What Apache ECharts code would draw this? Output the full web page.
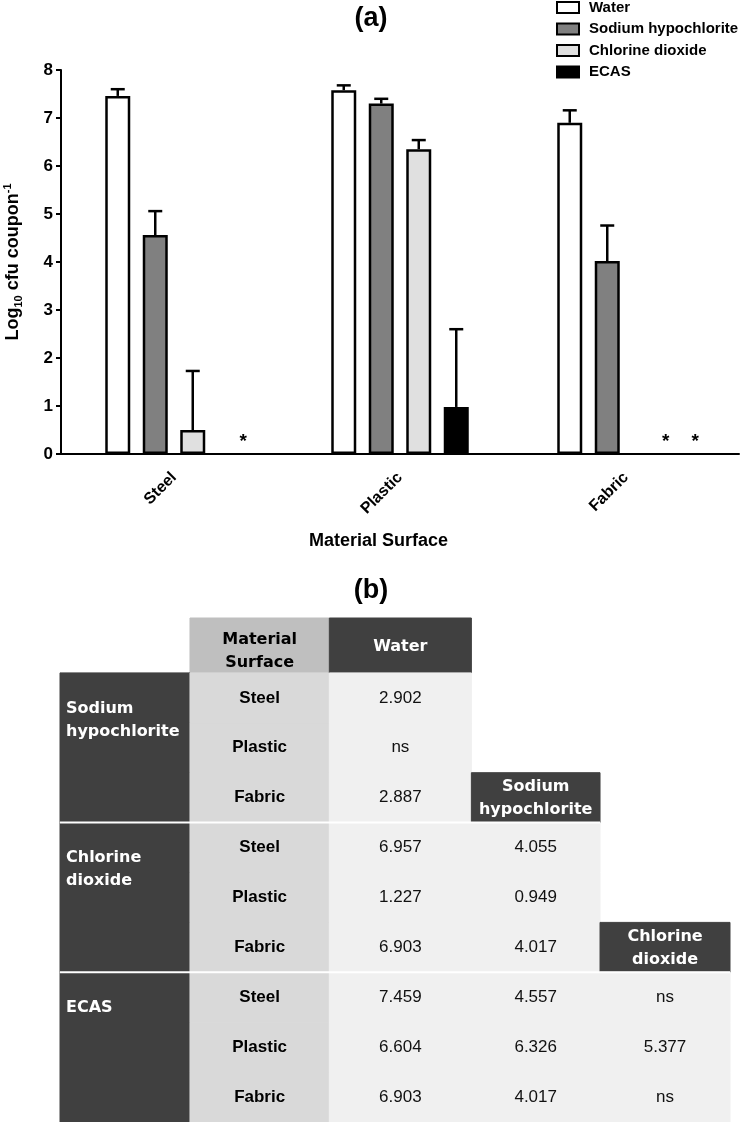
<!DOCTYPE html>
<html>
<head>
<meta charset="utf-8">
<script src="https://cdn.jsdelivr.net/npm/echarts@6/dist/echarts.min.js"></script>
<style>
  html, body { margin: 0; padding: 0; background: #fff; }
  #chart { width: 742px; height: 1122px; }
</style>
</head>
<body>
<div id="chart"></div>
<script>
// ---- (a) bar chart data ----
const SURFACES = ['Steel', 'Plastic', 'Fabric'];
const TREATMENTS = ['Water', 'Sodium hypochlorite', 'Chlorine dioxide', 'ECAS'];
const WATER = [7.46, 7.58, 6.90];
const SODIUM = [4.56, 7.30, 4.02];
const CHLORINE = [0.50, 6.35, 0];
const ECAS = [0, 0.98, 0];
const WATER_ERR = [0.14, 0.10, 0.26];
const SODIUM_ERR = [0.50, 0.10, 0.74];
const CHLORINE_ERR = [1.23, 0.19, 0];
const ECAS_ERR = [0, 1.62, 0];
const Y_TICKS = [0, 1, 2, 3, 4, 5, 6, 7, 8];

// ---- (b) table data ----
const GROUP_LABELS = ['Sodium hypochlorite', 'Chlorine dioxide', 'ECAS'];
const COMPARE_HEADS = ['Water', 'Sodium hypochlorite', 'Chlorine dioxide'];
const VS_WATER = ['2.902', 'ns', '2.887', '6.957', '1.227', '6.903', '7.459', '6.604', '6.903'];
const VS_SODIUM = [null, null, null, '4.055', '0.949', '4.017', '4.557', '6.326', '4.017'];
const VS_CHLORINE = [null, null, null, null, null, null, 'ns', '5.377', 'ns'];

// ---- styles ----
const BAR_COLORS = ['#ffffff', '#808080', '#e0e0e0', '#000000'];
const STAR_DX = [0, 0, 21, 13];
const BAR_W = 25;
const PITCH = BAR_W * 1.5;
const DARK = '#404040';
const MAT_HEAD_BG = '#bfbfbf';
const MAT_BG = '#d9d9d9';
const VALUE_BG = '#f0f0f0';
const COL_EDGES = [0, 0.97, 2.01, 3.07, 4.03, 5];
const SANS = 'Liberation Sans, Arial, sans-serif';
const WIDE = 'DejaVu Sans, Verdana, sans-serif';

const means = [WATER, SODIUM, CHLORINE, ECAS];
const errs = [WATER_ERR, SODIUM_ERR, CHLORINE_ERR, ECAS_ERR];

const errData = [];
means.forEach((m, s) => {
  m.forEach((v, c) => {
    if (errs[s][c] > 0) errData.push([c, s, v, errs[s][c]]);
  });
});

// table cells
const cells = [];
cells.push({ c0: 1, c1: 2, r0: -1.1, r1: 0, text: 'Material\nSurface', bg: MAT_HEAD_BG, kind: 'head', fill: '#000', dy: 6 });
GROUP_LABELS.forEach((g, gi) => {
  cells.push({ c0: 0, c1: 1, r0: gi * 3, r1: gi * 3 + 3, text: g.replace(' ', '\n'), bg: DARK, kind: 'group', fill: '#fff' });
});
VS_WATER.forEach((v, i) => {
  cells.push({ c0: 1, c1: 2, r0: i, r1: i + 1, text: SURFACES[i % 3], bg: MAT_BG, kind: 'surface', fill: '#000' });
});
[VS_WATER, VS_SODIUM, VS_CHLORINE].forEach((col, k) => {
  const first = col.findIndex(v => v !== null);
  const hr = k === 0 ? -1.1 : first - 1;
  cells.push({ c0: k + 2, c1: k + 3, r0: hr, r1: first, text: COMPARE_HEADS[k].replace(' ', '\n'), bg: DARK, kind: 'head', fill: '#fff', dy: 1 });
  col.forEach((v, i) => {
    if (v !== null) cells.push({ c0: k + 2, c1: k + 3, r0: i, r1: i + 1, text: v, bg: VALUE_BG, kind: 'value', fill: '#111' });
  });
});
cells.push({ c0: 0, c1: 4, r0: 3, r1: 3, kind: 'rule' });
cells.push({ c0: 0, c1: 5, r0: 6, r1: 6, kind: 'rule' });

const chart = echarts.init(document.getElementById('chart'));

const option = {
  animation: false,
  backgroundColor: '#fff',
  title: [
    { text: '(a)', left: 'center', top: 0, textStyle: { fontSize: 27, fontWeight: 'bold', fontFamily: SANS, color: '#000' } },
    { text: '(b)', left: 'center', top: 572, textStyle: { fontSize: 27, fontWeight: 'bold', fontFamily: SANS, color: '#000' } }
  ],
  legend: {
    data: TREATMENTS,
    orient: 'vertical',
    left: 556,
    top: 0,
    padding: 0,
    itemWidth: 22,
    itemHeight: 11,
    itemGap: 6.5,
    icon: 'rect',
    itemStyle: { borderColor: '#000', borderWidth: 2 },
    textStyle: { fontSize: 15, fontWeight: 'bold', fontFamily: SANS, color: '#000', padding: [0, 0, 0, 5] }
  },
  grid: [
    { left: 61, right: 3, top: 70, bottom: 668, outerBoundsMode: 'none' },
    { left: 60, right: 12, top: 618, bottom: 0, outerBoundsMode: 'none' }
  ],
  xAxis: [
    {
      type: 'category',
      gridIndex: 0,
      data: SURFACES,
      name: 'Material Surface',
      nameLocation: 'middle',
      nameGap: 78,
      nameTextStyle: { fontSize: 18, fontWeight: 'bold', fontFamily: SANS, color: '#000', padding: [0, 43, 0, 0] },
      axisLine: { lineStyle: { color: '#000', width: 2 } },
      axisTick: { alignWithLabel: true, length: 6, lineStyle: { color: '#000', width: 2 } },
      axisLabel: { rotate: 45, margin: 21, fontSize: 16, fontWeight: 'bold', fontFamily: SANS, color: '#000' }
    },
    { type: 'value', gridIndex: 1, min: 0, max: 5, show: false }
  ],
  yAxis: [
    {
      type: 'value',
      gridIndex: 0,
      min: Y_TICKS[0],
      max: Y_TICKS[Y_TICKS.length - 1],
      interval: 1,
      name: '{b|Log}{s|10}{b| cfu coupon}{p|-1}',
      nameLocation: 'middle',
      nameGap: 37,
      nameTextStyle: {
        rich: {
          b: { fontSize: 18, fontWeight: 'bold', fontFamily: SANS, color: '#000', lineHeight: 22 },
          s: { fontSize: 11, fontWeight: 'bold', fontFamily: SANS, color: '#000', verticalAlign: 'bottom', lineHeight: 22 },
          p: { fontSize: 11, fontWeight: 'bold', fontFamily: SANS, color: '#000', verticalAlign: 'top', lineHeight: 22 }
        }
      },
      axisLine: { show: true, lineStyle: { color: '#000', width: 2 } },
      axisTick: { show: true, length: 5, lineStyle: { color: '#000', width: 2 } },
      axisLabel: { margin: 8, fontSize: 17, fontWeight: 'bold', fontFamily: SANS, color: '#000' },
      splitLine: { show: false }
    },
    { type: 'value', gridIndex: 1, min: -1.1, max: 9, inverse: true, show: false }
  ],
  series: [
    ...TREATMENTS.map((name, s) => ({
      name: name,
      type: 'bar',
      xAxisIndex: 0,
      yAxisIndex: 0,
      // zero-height bars carry the '*' marker only
      data: means[s].map(v => (v === 0
        ? { value: 0, itemStyle: { color: 'transparent', borderColor: 'transparent' } }
        : v)),
      barWidth: BAR_W,
      barGap: '50%',
      itemStyle: { color: BAR_COLORS[s], borderColor: '#000', borderWidth: 2.5 },
      label: {
        show: true,
        position: 'top',
        distance: 1,
        offset: [STAR_DX[s], 0],
        formatter: p => (p.value === 0 ? '*' : ''),
        fontSize: 19,
        fontWeight: 'bold',
        fontFamily: SANS,
        color: '#000'
      }
    })),
    {
      name: 'error',
      type: 'custom',
      xAxisIndex: 0,
      yAxisIndex: 0,
      data: errData,
      encode: { x: 0, y: 2 },
      z: 5,
      renderItem: function (params, api) {
        const dx = (api.value(1) - 1.5) * PITCH;
        const base = api.coord([api.value(0), api.value(2)]);
        const top = api.coord([api.value(0), api.value(2) + api.value(3)]);
        const x = base[0] + dx;
        const st = { stroke: '#000', lineWidth: 2.5 };
        return {
          type: 'group',
          children: [
            { type: 'line', shape: { x1: x, y1: base[1], x2: x, y2: top[1] }, style: st },
            { type: 'line', shape: { x1: x - 7, y1: top[1], x2: x + 7, y2: top[1] }, style: st }
          ]
        };
      }
    },
    {
      name: 'table',
      type: 'custom',
      xAxisIndex: 1,
      yAxisIndex: 1,
      clip: false,
      data: cells.map(c => [COL_EDGES[c.c0], c.r0, COL_EDGES[c.c1], c.r1]),
      encode: { x: [0, 2], y: [1, 3] },
      renderItem: function (params, api) {
        const cell = cells[params.dataIndex];
        const a = api.coord([api.value(0), api.value(1)]);
        const b = api.coord([api.value(2), api.value(3)]);
        if (cell.kind === 'rule') {
          return { type: 'line', z2: 10, shape: { x1: a[0], y1: a[1], x2: b[0], y2: a[1] }, style: { stroke: '#ffffff', lineWidth: 2 } };
        }
        const children = [
          { type: 'rect', shape: { x: a[0], y: a[1], width: b[0] - a[0], height: b[1] - a[1] }, style: { fill: cell.bg, stroke: cell.bg, lineWidth: 1 } }
        ];
        let ts;
        if (cell.kind === 'group') {
          ts = { x: a[0] + 6, y: a[1] + 24, align: 'left', verticalAlign: 'top', font: 'bold 16px ' + WIDE, lineHeight: 23 };
        } else if (cell.kind === 'head') {
          ts = { x: (a[0] + b[0]) / 2, y: (a[1] + b[1]) / 2 + cell.dy, align: 'center', verticalAlign: 'middle', font: 'bold 16px ' + WIDE, lineHeight: 23 };
        } else if (cell.kind === 'surface') {
          ts = { x: (a[0] + b[0]) / 2, y: (a[1] + b[1]) / 2, align: 'center', verticalAlign: 'middle', font: 'bold 17px ' + SANS };
        } else {
          ts = { x: (a[0] + b[0]) / 2, y: (a[1] + b[1]) / 2, align: 'center', verticalAlign: 'middle', font: '17px ' + SANS };
        }
        ts.text = cell.text;
        ts.fill = cell.fill;
        children.push({ type: 'text', style: ts });
        return { type: 'group', children: children };
      }
    }
  ]
};

chart.setOption(option);
window.addEventListener('resize', () => chart.resize());
</script>
</body>
</html>
